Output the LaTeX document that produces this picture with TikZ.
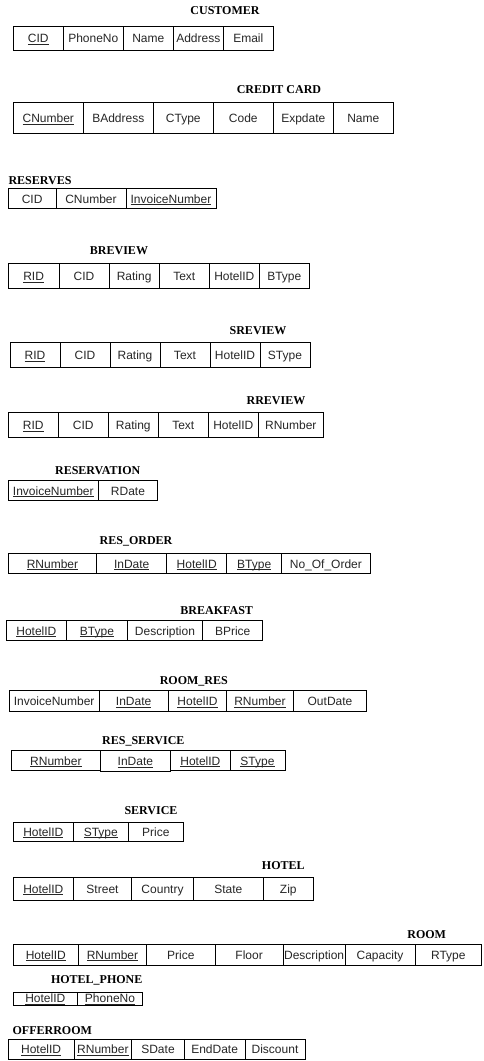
\documentclass[tikz,border=0pt]{standalone}
\usepackage{fontspec}
\setmainfont{Liberation Serif}
\newfontfamily\cellfont{Liberation Sans}
\tikzset{
  cellbox/.style={draw=black, line width=1pt, inner sep=0pt, outer sep=0pt, anchor=north west,
    font=\cellfont\fontsize{12}{14}\selectfont, text=black!85, text height=10pt, text depth=0.4pt, align=center},
  thincell/.style={text height=8.6pt, text depth=1.4pt},
  tabtitle/.style={font=\bfseries\fontsize{12}{14}\selectfont, inner sep=0pt, text=black}
}
\newcommand\cellx[7][]{\node[cellbox, #1, minimum width={#4pt-#3pt}, minimum height={#6pt-#5pt}] (#2) at (#3,#5) {#7};}
\newsavebox\ulbox
\newcommand\ulx[1]{\sbox\ulbox{#1}\rlap{\rule[-1.7pt]{\wd\ulbox}{0.8pt}}\usebox\ulbox}
\begin{document}
\begin{tikzpicture}[x=1pt,y=-1pt]
\useasboundingbox (0,0) rectangle (483,1061);
% CUSTOMER
\node[tabtitle] (tcust) at (225,11) {CUSTOMER};
\cellx{c1}{13.3}{63.3}{26}{50}{\ulx{CID}}
\cellx{c2}{63.3}{123.3}{26}{50}{PhoneNo}
\cellx{c3}{123.3}{173.3}{26}{50}{Name}
\cellx{c4}{173.3}{223.3}{26}{50}{Address}
\cellx{c5}{223.3}{273.3}{26}{50}{Email}
% CREDIT CARD
\node[tabtitle] (tcc) at (279,90) {CREDIT CARD};
\cellx{cc1}{13.3}{83.3}{102.7}{133.3}{\ulx{CNumber}}
\cellx{cc2}{83.3}{153.3}{102.7}{133.3}{BAddress}
\cellx{cc3}{153.3}{213.3}{102.7}{133.3}{CType}
\cellx{cc4}{213.3}{273.3}{102.7}{133.3}{Code}
\cellx{cc5}{273.3}{333.3}{102.7}{133.3}{Expdate}
\cellx{cc6}{333.3}{393.3}{102.7}{133.3}{Name}
% RESERVES
\node[tabtitle] (tres) at (40,181) {RESERVES};
\cellx{rs1}{8.3}{56}{188.3}{208.3}{CID}
\cellx{rs2}{56}{126}{188.3}{208.3}{CNumber}
\cellx{rs3}{126}{216}{188.3}{208.3}{\ulx{InvoiceNumber}}
% BREVIEW
\node[tabtitle] (tbr) at (119,251) {BREVIEW};
\cellx{br1}{8.3}{59}{263.3}{288.3}{\ulx{RID}}
\cellx{br2}{59}{109}{263.3}{288.3}{CID}
\cellx{br3}{109}{159.3}{263.3}{288.3}{Rating}
\cellx{br4}{159.3}{209.3}{263.3}{288.3}{Text}
\cellx{br5}{209.3}{259.3}{263.3}{288.3}{HotelID}
\cellx{br6}{259.3}{309.3}{263.3}{288.3}{BType}
% SREVIEW
\node[tabtitle] (tsr) at (258,331) {SREVIEW};
\cellx{sr1}{10}{60}{342.3}{367.3}{\ulx{RID}}
\cellx{sr2}{60}{110}{342.3}{367.3}{CID}
\cellx{sr3}{110}{160}{342.3}{367.3}{Rating}
\cellx{sr4}{160}{210}{342.3}{367.3}{Text}
\cellx{sr5}{210}{260}{342.3}{367.3}{HotelID}
\cellx{sr6}{260}{310}{342.3}{367.3}{SType}
% RREVIEW
\node[tabtitle] (trr) at (276,400.7) {RREVIEW};
\cellx{rr1}{8.3}{58.3}{412.3}{437.3}{\ulx{RID}}
\cellx{rr2}{58.3}{108.3}{412.3}{437.3}{CID}
\cellx{rr3}{108.3}{158.3}{412.3}{437.3}{Rating}
\cellx{rr4}{158.3}{208.3}{412.3}{437.3}{Text}
\cellx{rr5}{208.3}{258.3}{412.3}{437.3}{HotelID}
\cellx{rr6}{258.3}{323.3}{412.3}{437.3}{RNumber}
% RESERVATION
\node[tabtitle] (trv) at (97.7,471) {RESERVATION};
\cellx{rv1}{8.3}{98.3}{480.7}{500.7}{\ulx{InvoiceNumber}}
\cellx{rv2}{98.3}{157.7}{480.7}{500.7}{RDate}
% RES_ORDER
\node[tabtitle] (tro) at (136,541) {RES\_ORDER};
\cellx{ro1}{8.3}{96.7}{553.3}{573.3}{\ulx{RNumber}}
\cellx{ro2}{96.7}{166.7}{553.3}{573.3}{\ulx{InDate}}
\cellx{ro3}{166.7}{226.7}{553.3}{573.3}{\ulx{HotelID}}
\cellx{ro4}{226.7}{281.7}{553.3}{573.3}{\ulx{BType}}
\cellx{ro5}{281.7}{370}{553.3}{573.3}{No\_Of\_Order}
% BREAKFAST
\node[tabtitle] (tbf) at (216.7,611) {BREAKFAST};
\cellx{bf1}{6}{66.7}{620}{640.7}{\ulx{HotelID}}
\cellx{bf2}{66.7}{127.3}{620}{640.7}{\ulx{BType}}
\cellx{bf3}{127.3}{202.7}{620}{640.7}{Description}
\cellx{bf4}{202.7}{262.7}{620}{640.7}{BPrice}
% ROOM_RES
\node[tabtitle] (trm) at (193.8,681.7) {ROOM\_RES};
\cellx{rm1}{9.3}{99}{690.7}{711}{InvoiceNumber}
\cellx{rm2}{99}{168.3}{690.7}{711}{\ulx{InDate}}
\cellx{rm3}{168.3}{226.7}{690.7}{711}{\ulx{HotelID}}
\cellx{rm4}{226.7}{293.3}{690.7}{711}{\ulx{RNumber}}
\cellx{rm5}{293.3}{366.7}{690.7}{711}{OutDate}
% RES_SERVICE
\node[tabtitle] (tsv) at (143.3,741) {RES\_SERVICE};
\cellx{sv1}{11.7}{100}{750.7}{770.7}{\ulx{RNumber}}
\cellx{sv2}{100}{170.7}{750.7}{771.3}{\ulx{InDate}}
\cellx{sv3}{170.7}{230}{750.7}{770.7}{\ulx{HotelID}}
\cellx{sv4}{230}{285}{750.7}{770.7}{\ulx{SType}}
% SERVICE
\node[tabtitle] (tse) at (151,811) {SERVICE};
\cellx{se1}{13.3}{73.3}{822.3}{841}{\ulx{HotelID}}
\cellx{se2}{73.3}{128.3}{822.3}{841}{\ulx{SType}}
\cellx{se3}{128.3}{183.3}{822.3}{841}{Price}
% HOTEL
\node[tabtitle] (tho) at (283.3,866) {HOTEL};
\cellx{ho1}{13.3}{73.3}{877.3}{900}{\ulx{HotelID}}
\cellx{ho2}{73.3}{131.7}{877.3}{900}{Street}
\cellx{ho3}{131.7}{193.3}{877.3}{900}{Country}
\cellx{ho4}{193.3}{263.3}{877.3}{900}{State}
\cellx{ho5}{263.3}{313.3}{877.3}{900}{Zip}
% ROOM
\node[tabtitle] (tro2) at (426.7,934.3) {ROOM};
\cellx{rq1}{13.3}{78.3}{944.3}{965}{\ulx{HotelID}}
\cellx{rq2}{78.3}{146.7}{944.3}{965}{\ulx{RNumber}}
\cellx{rq3}{146.7}{215}{944.3}{965}{Price}
\cellx{rq4}{215}{283.3}{944.3}{965}{Floor}
\cellx{rq5}{283.3}{345}{944.3}{965}{Description}
\cellx{rq6}{345}{415}{944.3}{965}{Capacity}
\cellx{rq7}{415}{481.7}{944.3}{965}{RType}
% HOTEL_PHONE
\node[tabtitle] (thp) at (96.7,980) {HOTEL\_PHONE};
\cellx[thincell]{hp1}{13.3}{77.3}{992.3}{1005.7}{\ulx{HotelID}}
\cellx[thincell]{hp2}{77.3}{142.7}{992.3}{1005.7}{\ulx{PhoneNo}}
% OFFERROOM
\node[tabtitle] (tof) at (52.3,1030.7) {OFFERROOM};
\cellx{of1}{8.3}{74}{1039}{1059}{\ulx{HotelID}}
\cellx{of2}{74}{131.7}{1039}{1059}{\ulx{RNumber}}
\cellx{of3}{131.7}{184.3}{1039}{1059}{SDate}
\cellx{of4}{184.3}{245}{1039}{1059}{EndDate}
\cellx{of5}{245}{305}{1039}{1059}{Discount}
\end{tikzpicture}
\end{document}
